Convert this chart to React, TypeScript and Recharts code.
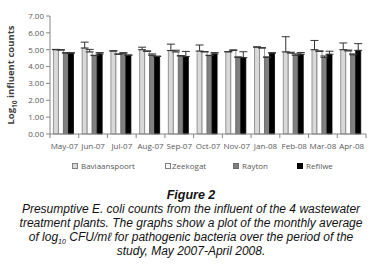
import React from 'react';
import { BarChart, Bar, XAxis, YAxis, ErrorBar, Legend, Label } from 'recharts';

const months = ['May-07', 'Jun-07', 'Jul-07', 'Aug-07', 'Sep-07', 'Oct-07', 'Nov-07', 'Jan-08', 'Feb-08', 'Mar-08', 'Apr-08'];
const baviaanspoort = [5.0, 5.1, 4.92, 5.0, 4.95, 4.92, 4.87, 5.15, 4.87, 5.0, 5.0];
const baviaanspoortErr = [0.02, 0.35, 0.02, 0.15, 0.38, 0.36, 0.02, 0.02, 0.9, 0.55, 0.4];
const zeekogat = [4.98, 4.87, 4.73, 4.9, 4.87, 4.87, 4.96, 5.1, 4.8, 4.9, 4.93];
const zeekogatErr = [0.02, 0.15, 0.02, 0.03, 0.1, 0.02, 0.03, 0.02, 0.05, 0.03, 0.05];
const rayton = [4.8, 4.65, 4.8, 4.67, 4.63, 4.65, 4.55, 4.55, 4.67, 4.55, 4.7];
const raytonErr = [0.02, 0.02, 0.02, 0.08, 0.02, 0.02, 0.02, 0.02, 0.08, 0.08, 0.05];
const refilwe = [4.8, 4.75, 4.67, 4.6, 4.6, 4.75, 4.53, 4.8, 4.73, 4.73, 4.96];
const refilweErr = [0.02, 0.08, 0.02, 0.02, 0.3, 0.08, 0.35, 0.02, 0.1, 0.18, 0.4];
const yTicks = [0, 1, 2, 3, 4, 5, 6, 7];

const data = months.map((m, i) => ({
  month: m,
  Baviaanspoort: baviaanspoort[i],
  bErr: [0, baviaanspoortErr[i]],
  Zeekogat: zeekogat[i],
  zErr: [0, zeekogatErr[i]],
  Rayton: rayton[i],
  rErr: [0, raytonErr[i]],
  Refilwe: refilwe[i],
  fErr: [0, refilweErr[i]],
}));

const series = [
  { key: 'Baviaanspoort', err: 'bErr', fill: '#d9d9d9', stroke: '#808080', left: 72 },
  { key: 'Zeekogat', err: 'zErr', fill: '#ffffff', stroke: '#808080', left: 165, gap: 1 },
  { key: 'Rayton', err: 'rErr', fill: '#808080', stroke: '#6a6a6a', left: 233 },
  { key: 'Refilwe', err: 'fErr', fill: '#000000', stroke: '#000000', left: 297 },
];

const FONT = '"Open Sans", "Liberation Sans", Arial, sans-serif';

const PLOT_LEFT = 50;
const PLOT_RIGHT = 366;
const band = (PLOT_RIGHT - PLOT_LEFT) / months.length;

const MonthTick = (props: any) => {
  const { x, y, payload, index } = props;
  return (
    <g>
      <line x1={x - band / 2} x2={x - band / 2} y1={y - 8} y2={y - 4} stroke="#868686" />
      {index === months.length - 1 && (
        <line x1={x + band / 2} x2={x + band / 2} y1={y - 8} y2={y - 4} stroke="#868686" />
      )}
      <text x={x} y={y + 7} textAnchor="middle" fontSize={8} fill="#595959" fontFamily={FONT}>
        {payload.value}
      </text>
    </g>
  );
};

const LegendContent = () => (
  <div style={{ position: 'relative', height: 14, width: 382, fontFamily: FONT, fontSize: 8, color: '#595959' }}>
    {series.map((s) => (
      <div key={s.key} style={{ position: 'absolute', left: s.left, top: 6, display: 'flex', alignItems: 'center' }}>
        <span
          style={{
            display: 'inline-block',
            width: 4,
            height: 4,
            background: s.fill,
            border: `1px solid ${s.stroke}`,
            marginRight: s.gap ?? 3,
          }}
        />
        <span>{s.key}</span>
      </div>
    ))}
  </div>
);

const captionLines = [
  'Presumptive E. coli counts from the influent of the 4 wastewater',
  'treatment plants. The graphs show a plot of the monthly average',
];

export default function App() {
  return (
    <div style={{ position: 'absolute', left: 0, top: 0, width: 382, height: 267, background: '#fff' }}>
      <BarChart
        width={382}
        height={172}
        data={data}
        margin={{ top: 16, right: 16, bottom: 4, left: 0 }}
        barCategoryGap="12%"
        barGap={0}
      >
        <XAxis
          dataKey="month"
          axisLine={{ stroke: '#868686' }}
          tickLine={false}
          tick={<MonthTick />}
          interval={0}
          height={20}
        />
        <YAxis
          domain={[0, 7]}
          ticks={yTicks}
          tickFormatter={(v) => v.toFixed(2)}
          axisLine={{ stroke: '#868686' }}
          tickLine={{ stroke: '#868686' }}
          tickSize={4}
          tick={{ fontSize: 8, fill: '#595959', fontFamily: FONT }}
          width={50}
        >
          <Label
            content={() => (
              <text
                transform="translate(14, 75) rotate(-90)"
                textAnchor="middle"
                fontSize={9.5}
                fontWeight="bold"
                fill="#404040"
                fontFamily={FONT}
              >
                Log
                <tspan fontSize={6.5} dy={3}>10</tspan>
                <tspan dy={-3}> influent counts</tspan>
              </text>
            )}
          />
        </YAxis>
        <Legend verticalAlign="bottom" height={14} content={<LegendContent />} />
        {series.map((s) => (
          <Bar
            key={s.key}
            dataKey={s.key}
            fill={s.fill}
            stroke={s.stroke}
            strokeWidth={0.8}
            isAnimationActive={false}
          >
            <ErrorBar dataKey={s.err} width={4} stroke="#333" strokeWidth={1} />
          </Bar>
        ))}
      </BarChart>
      <div
        style={{
          position: 'absolute',
          top: 188,
          left: 0,
          width: 382,
          textAlign: 'center',
          fontFamily: '"Liberation Sans", Arial, sans-serif',
          fontStyle: 'italic',
          fontSize: 12,
          lineHeight: '14px',
          color: '#111',
        }}
      >
        <div style={{ fontWeight: 'bold', fontSize: 12.5 }}>Figure 2</div>
        <div>{captionLines[0]}</div>
        <div>{captionLines[1]}</div>
        <div style={{ height: 14 }}>
          of log<sub style={{ fontSize: 7, lineHeight: 0 }}>10</sub> CFU/mℓ for pathogenic bacteria over the period of the
        </div>
        <div>study, May 2007-April 2008.</div>
      </div>
    </div>
  );
}
